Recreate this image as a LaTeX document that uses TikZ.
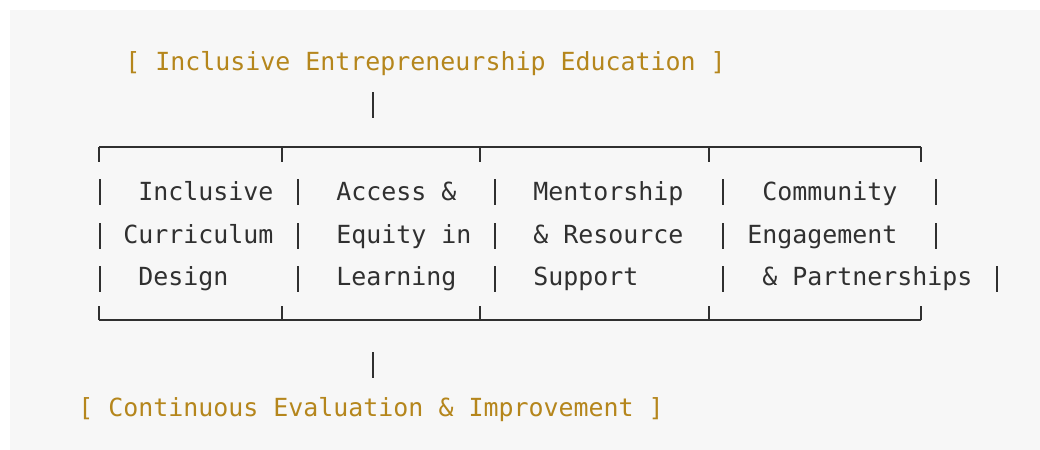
\documentclass[tikz,border=0pt]{standalone}
\usepackage{fontspec}
\setmonofont{DejaVu Sans Mono}
\usetikzlibrary{positioning}
\definecolor{titlegold}{RGB}{181,134,28}
\definecolor{inkgray}{RGB}{48,48,48}
\definecolor{paper}{RGB}{247,247,247}

\begin{document}
\begin{tikzpicture}[x=0.75pt,y=-0.75pt,
  title/.style={font=\ttfamily\fontsize{18.7}{22}\selectfont,text=titlegold,anchor=base west,inner sep=0pt},
  cell/.style={font=\ttfamily\fontsize{18.7}{22}\selectfont,text=inkgray,anchor=base west,inner sep=0pt},
  bar/.style={draw=inkgray,line width=1.1pt}]
\useasboundingbox (0,0) rectangle (1040,450);
\fill[paper] (10,10) rectangle (1040,450);

% headline and footline
\node[title] (edu) at (125,70) {[ Inclusive Entrepreneurship Education ]};
\node[title] (eval) at (78,416) {[ Continuous Evaluation \& Improvement ]};

\coordinate (stubA) at (373,92);
\coordinate (stubB) at (373,118);
\coordinate (stubC) at (373,352);
\coordinate (stubD) at (373,378);
\draw[bar] (stubA) -- (stubB);
\draw[bar] (stubC) -- (stubD);

% frame with column ticks
\draw[bar] (99,147) -- (921,147);
\draw[bar] (99,320) -- (921,320);
\foreach \x in {99,282,480,709,921}{
  \draw[bar] (\x,147) -- (\x,162);
  \draw[bar] (\x,306) -- (\x,320);
}

% column separators
\foreach \y in {179,223}{
  \foreach \x in {100,298,495,723,936}{
    \draw[bar] (\x,\y) -- (\x,\y+26);
  }
}
\foreach \x in {100,298,495,723,997}{
  \draw[bar] (\x,266) -- (\x,292);
}

% pillars
\node[cell] (inc1) at (138,200) {Inclusive};
\node[cell] (inc2) at (123,243) {Curriculum};
\node[cell] (inc3) at (138,285) {Design};

\node[cell] (acc1) at (336,200) {Access \&};
\node[cell] (acc2) at (336,243) {Equity in};
\node[cell] (acc3) at (336,285) {Learning};

\node[cell] (men1) at (533,200) {Mentorship};
\node[cell] (men2) at (533,243) {\& Resource};
\node[cell] (men3) at (533,285) {Support};

\node[cell] (com1) at (762,200) {Community};
\node[cell] (com2) at (747,243) {Engagement};
\node[cell] (com3) at (762,285) {\& Partnerships};

\end{tikzpicture}
\end{document}
